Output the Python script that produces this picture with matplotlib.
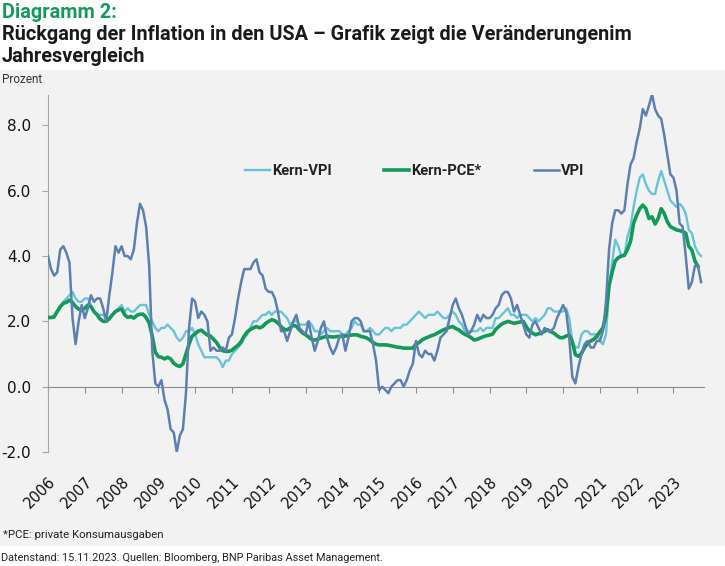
import numpy as np
import matplotlib
matplotlib.use("Agg")
import matplotlib.pyplot as plt
from matplotlib import font_manager
from matplotlib.patches import Rectangle

# monthly year-on-year rates, Jan 2006 onwards (percent)
vpi = [4.0, 3.6, 3.4, 3.5, 4.2, 4.3, 4.1, 3.8, 2.1, 1.3, 2.0, 2.5,
       2.1, 2.4, 2.8, 2.6, 2.7, 2.7, 2.4, 2.0, 2.8, 3.5, 4.3, 4.1,
       4.3, 4.0, 4.0, 3.9, 4.2, 5.0, 5.6, 5.4, 4.9, 3.7, 1.1, 0.1,
       0.0, 0.2, -0.4, -0.7, -1.3, -1.4, -2.0, -1.5, -1.3, -0.2, 1.8, 2.7,
       2.6, 2.1, 2.3, 2.2, 2.0, 1.1, 1.2, 1.1, 1.1, 1.2, 1.1, 1.5,
       1.6, 2.1, 2.7, 3.2, 3.6, 3.6, 3.6, 3.8, 3.9, 3.5, 3.4, 3.0,
       2.9, 2.9, 2.7, 2.3, 1.7, 1.7, 1.4, 1.7, 2.0, 2.2, 1.8, 1.7,
       1.6, 2.0, 1.5, 1.1, 1.4, 1.8, 2.0, 1.5, 1.2, 1.0, 1.2, 1.5,
       1.6, 1.1, 1.5, 2.0, 2.1, 2.1, 2.0, 1.7, 1.7, 1.7, 1.3, 0.8,
       -0.1, 0.0, -0.1, -0.2, 0.0, 0.1, 0.2, 0.2, 0.0, 0.2, 0.5, 0.7,
       1.4, 1.0, 0.9, 1.1, 1.0, 1.0, 0.8, 1.1, 1.5, 1.6, 1.7, 2.1,
       2.5, 2.7, 2.4, 2.2, 1.9, 1.6, 1.7, 1.9, 2.2, 2.0, 2.2, 2.1,
       2.1, 2.2, 2.4, 2.5, 2.8, 2.9, 2.9, 2.7, 2.3, 2.5, 2.2, 1.9,
       1.6, 1.5, 1.9, 2.0, 1.8, 1.6, 1.8, 1.7, 1.7, 1.8, 2.1, 2.3,
       2.5, 2.3, 1.5, 0.3, 0.1, 0.6, 1.0, 1.3, 1.4, 1.2, 1.2, 1.4,
       1.4, 1.7, 2.6, 4.2, 5.0, 5.4, 5.4, 5.3, 5.4, 6.2, 6.8, 7.0,
       7.5, 7.9, 8.5, 8.3, 8.6, 8.95, 8.5, 8.3, 8.2, 7.7, 7.1, 6.5,
       6.4, 6.0, 5.0, 4.9, 4.0, 3.0, 3.2, 3.7, 3.7, 3.2]

kern_vpi = [2.1, 2.1, 2.1, 2.3, 2.4, 2.6, 2.7, 2.8, 2.9, 2.7, 2.6, 2.6,
            2.7, 2.7, 2.5, 2.3, 2.2, 2.2, 2.2, 2.1, 2.1, 2.2, 2.3, 2.4,
            2.5, 2.3, 2.4, 2.3, 2.3, 2.4, 2.5, 2.5, 2.5, 2.2, 2.0, 1.8,
            1.7, 1.8, 1.8, 1.9, 1.8, 1.7, 1.5, 1.4, 1.5, 1.7, 1.7, 1.8,
            1.6, 1.3, 1.1, 0.9, 0.9, 0.9, 0.9, 0.9, 0.8, 0.6, 0.8, 0.8,
            1.0, 1.1, 1.2, 1.3, 1.5, 1.6, 1.8, 2.0, 2.0, 2.1, 2.2, 2.2,
            2.3, 2.2, 2.3, 2.3, 2.3, 2.2, 2.1, 1.9, 2.0, 2.0, 1.9, 1.9,
            1.9, 2.0, 1.9, 1.7, 1.7, 1.6, 1.7, 1.8, 1.7, 1.7, 1.7, 1.7,
            1.6, 1.6, 1.7, 1.8, 2.0, 1.9, 1.9, 1.7, 1.7, 1.8, 1.7, 1.6,
            1.6, 1.7, 1.8, 1.8, 1.7, 1.8, 1.8, 1.8, 1.9, 1.9, 2.0, 2.1,
            2.2, 2.3, 2.2, 2.1, 2.2, 2.2, 2.2, 2.3, 2.2, 2.1, 2.1, 2.2,
            2.3, 2.2, 2.0, 1.9, 1.7, 1.7, 1.7, 1.7, 1.7, 1.8, 1.7, 1.8,
            1.8, 1.8, 2.1, 2.1, 2.2, 2.3, 2.4, 2.2, 2.2, 2.1, 2.2, 2.2,
            2.2, 2.1, 2.0, 2.1, 2.0, 2.1, 2.2, 2.4, 2.4, 2.3, 2.3, 2.3,
            2.3, 2.4, 2.1, 1.4, 1.2, 1.2, 1.6, 1.7, 1.7, 1.6, 1.6, 1.6,
            1.4, 1.3, 1.6, 3.0, 3.8, 4.5, 4.3, 4.0, 4.0, 4.6, 4.9, 5.5,
            6.0, 6.4, 6.5, 6.2, 6.0, 5.9, 5.9, 6.3, 6.6, 6.3, 6.0, 5.7,
            5.6, 5.5, 5.6, 5.5, 5.3, 4.8, 4.7, 4.3, 4.1, 4.0]

kern_pce = [2.12, 2.12, 2.14, 2.30, 2.45, 2.55, 2.58, 2.65, 2.58, 2.45, 2.38, 2.35,
            2.40, 2.50, 2.45, 2.30, 2.20, 2.07, 2.00, 2.00, 2.08, 2.20, 2.30, 2.35,
            2.38, 2.20, 2.12, 2.15, 2.10, 2.18, 2.22, 2.22, 2.12, 1.95, 1.55, 1.05,
            0.92, 0.90, 0.85, 0.90, 0.85, 0.72, 0.65, 0.62, 0.70, 1.00, 1.30, 1.55,
            1.62, 1.70, 1.73, 1.65, 1.58, 1.55, 1.45, 1.35, 1.20, 1.10, 1.08, 1.08,
            1.12, 1.20, 1.27, 1.38, 1.55, 1.68, 1.75, 1.80, 1.84, 1.80, 1.84, 1.94,
            2.00, 2.05, 2.02, 1.95, 1.84, 1.76, 1.74, 1.80, 1.88, 1.85, 1.74, 1.65,
            1.59, 1.52, 1.45, 1.43, 1.45, 1.49, 1.52, 1.54, 1.53, 1.52, 1.53, 1.54,
            1.54, 1.55, 1.56, 1.58, 1.59, 1.58, 1.54, 1.52, 1.49, 1.43, 1.35, 1.30,
            1.28, 1.28, 1.28, 1.27, 1.25, 1.23, 1.21, 1.20, 1.18, 1.18, 1.18, 1.18,
            1.30, 1.35, 1.43, 1.48, 1.52, 1.56, 1.59, 1.64, 1.69, 1.74, 1.78, 1.82,
            1.84, 1.78, 1.74, 1.66, 1.60, 1.56, 1.50, 1.43, 1.45, 1.49, 1.53, 1.56,
            1.58, 1.61, 1.75, 1.84, 1.92, 1.96, 2.00, 1.97, 1.94, 1.96, 1.98, 2.00,
            1.84, 1.70, 1.64, 1.59, 1.62, 1.64, 1.70, 1.74, 1.68, 1.64, 1.56, 1.50,
            1.50, 1.55, 1.58, 1.38, 0.98, 0.93, 1.02, 1.20, 1.32, 1.40, 1.45, 1.54,
            1.68, 1.80, 2.20, 3.10, 3.50, 3.85, 3.95, 4.00, 4.02, 4.20, 4.45, 5.00,
            5.25, 5.45, 5.56, 5.45, 5.15, 5.20, 4.98, 5.15, 5.45, 5.30, 5.05, 4.90,
            4.85, 4.80, 4.78, 4.75, 4.70, 4.30, 4.18, 3.85, 3.68]

years = list(range(2006, 2024))
y_ticks = [-2, 0, 2, 4, 6, 8]

names = {f.name for f in font_manager.fontManager.ttflist}
narrow = "Liberation Sans Narrow" if "Liberation Sans Narrow" in names else "Roboto"

c_vpi = "#5b80b0"
c_kern = "#67c3d7"
c_pce = "#129a58"

fig = plt.figure(figsize=(7.25, 5.66), dpi=100)
fig.patches.append(Rectangle((0, 20 / 566), 1, 476 / 566, transform=fig.transFigure,
                             facecolor="#f2f2f2", edgecolor="none", zorder=-5))

fig.text(2 / 725, 1 - 18 / 566, "Diagramm 2:", color="#16995a", fontsize=14.3,
         fontweight="bold", family=narrow, va="baseline")
fig.text(2 / 725, 1 - 40 / 566,
         "Rückgang der Inflation in den USA – Grafik zeigt die Veränderungenim",
         color="#1a1a1a", fontsize=14.3, fontweight="bold", family=narrow, va="baseline")
fig.text(2 / 725, 1 - 62 / 566, "Jahresvergleich", color="#1a1a1a", fontsize=14.3,
         fontweight="bold", family=narrow, va="baseline")
fig.text(2 / 725, 1 - 83 / 566, "Prozent", color="#333333", fontsize=8.5,
         family=narrow, va="baseline")
fig.text(3 / 725, 1 - 538 / 566, "*PCE: private Konsumausgaben", color="#222222",
         fontsize=8.2, family=narrow, va="baseline")
fig.text(1 / 725, 1 - 561 / 566,
         "Datenstand: 15.11.2023. Quellen: Bloomberg, BNP Paribas Asset Management.",
         color="#222222", fontsize=7.8, family=narrow, va="baseline")

ax = fig.add_axes([48 / 725, 114 / 566, 656 / 725, 357 / 566])
ax.patch.set_visible(False)

x_vpi = 2006 + np.arange(len(vpi)) / 12
x_kern = 2006 + np.arange(len(kern_vpi)) / 12
x_pce = 2006 + np.arange(len(kern_pce)) / 12

ax.plot(x_kern, kern_vpi, color=c_kern, lw=1.7, label="Kern-VPI", zorder=3)
ax.plot(x_pce, kern_pce, color=c_pce, lw=2.6, label="Kern-PCE*", zorder=4)
ax.plot(x_vpi, vpi, color=c_vpi, lw=1.8, label="VPI", zorder=5)

ax.set_xlim(2006, 2023.83)
ax.set_ylim(-2, 8.93)

for s in ["top", "right"]:
    ax.spines[s].set_visible(False)
ax.spines["left"].set_color("#a6a6a6")
ax.spines["bottom"].set_position(("data", 0))
ax.spines["bottom"].set_color("#8c8c8c")

ax.set_yticks(y_ticks)
ax.set_yticklabels([f"{v:.1f}" for v in y_ticks])
ax.tick_params(axis="y", length=4, color="#a6a6a6", labelsize=11, pad=8, labelcolor="#111111")
ax.set_xticks(years)
ax.tick_params(axis="x", length=4, color="#8c8c8c", labelbottom=False)

sec = ax.secondary_xaxis("bottom")
sec.set_xticks(years)
sec.set_xticklabels([str(y) for y in years], rotation=45, ha="right",
                    rotation_mode="anchor", fontsize=10.5, color="#111111")
sec.tick_params(length=0, pad=16)
sec.spines["bottom"].set_visible(False)

leg = ax.legend(loc="center left", bbox_to_anchor=(245 / 725, 1 - 171 / 566),
                bbox_transform=fig.transFigure, ncol=3, frameon=False,
                handlelength=1.7, handletextpad=0.15, columnspacing=3.6,
                fontsize=10.5, borderaxespad=0, borderpad=0)
for t in leg.get_texts():
    t.set_family(narrow)
    t.set_fontweight("bold")
    t.set_color("#222222")

fig.savefig("out.png", dpi=100)
